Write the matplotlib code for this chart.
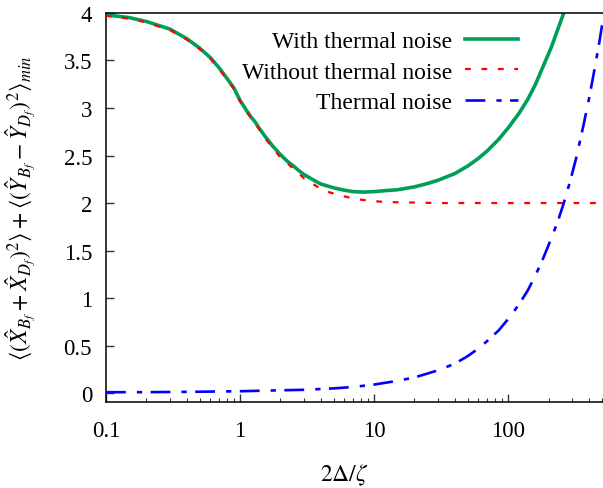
import matplotlib
matplotlib.use("Agg")
import matplotlib.pyplot as plt

plt.rcParams['font.family'] = ['Liberation Serif', 'DejaVu Serif']
plt.rcParams['mathtext.fontset'] = 'stix'

# values (x is 2*Delta/zeta)
x_with = [0.1, 0.15, 0.2, 0.3, 0.4, 0.5, 0.6, 0.7, 0.8, 0.9, 1.0, 1.11, 1.2, 1.3, 1.4,
          1.56, 1.75, 2.0, 2.25, 2.5, 2.75, 3.0, 3.5, 4.0, 5.0, 6.0, 7.0, 8.3, 10, 12,
          15, 20, 25, 30, 40, 50, 60, 70, 85, 100, 120, 140, 160, 184, 210, 235, 260,
          290]
y_with = [3.98, 3.95, 3.91, 3.83, 3.73, 3.63, 3.53, 3.42, 3.31, 3.21, 3.08, 2.98, 2.91,
          2.85, 2.78, 2.69, 2.60, 2.51, 2.44, 2.39, 2.34, 2.30, 2.245, 2.20, 2.16, 2.135,
          2.12, 2.115, 2.12, 2.13, 2.14, 2.17, 2.205, 2.24, 2.31, 2.39, 2.47, 2.55, 2.67,
          2.79, 2.94, 3.09, 3.25, 3.45, 3.64, 3.83, 4.0, 4.25]

x_without = [0.1, 0.15, 0.2, 0.3, 0.4, 0.5, 0.6, 0.7, 0.8, 0.9, 1.0, 1.11, 1.2, 1.3, 1.4,
             1.56, 1.75, 2.0, 2.25, 2.5, 2.75, 3.0, 3.5, 4.0, 4.7, 6.0, 7.4, 10, 12.4,
             20, 30, 50, 100, 200, 510]
y_without = [3.97, 3.94, 3.90, 3.82, 3.72, 3.62, 3.52, 3.41, 3.30, 3.20, 3.07, 2.97, 2.90,
             2.83, 2.77, 2.67, 2.58, 2.48, 2.42, 2.36, 2.31, 2.26, 2.20, 2.15, 2.11, 2.07,
             2.04, 2.02, 2.01, 2.005, 2.0, 2.0, 2.0, 2.0, 2.0]

x_thermal = [0.1, 0.2, 0.5, 1, 2, 3, 5, 7, 10, 15, 20, 30, 40, 50, 60, 70, 85, 100, 120,
             140, 160, 184, 210, 235, 260, 290, 320, 365, 400, 440, 480, 520]
y_thermal = [0.01, 0.01, 0.015, 0.02, 0.03, 0.035, 0.05, 0.065, 0.09, 0.13, 0.165, 0.24,
             0.31, 0.39, 0.47, 0.55, 0.66, 0.78, 0.93, 1.08, 1.24, 1.43, 1.63, 1.81, 2.0,
             2.23, 2.46, 2.82, 3.09, 3.40, 3.70, 4.01]

labels = ['With thermal noise', 'Without thermal noise', 'Thermal noise']
x_ticks = [0.1, 1, 10, 100]
x_ticklabels = ['0.1', '1', '10', '100']
y_ticks = [0, 0.5, 1, 1.5, 2, 2.5, 3, 3.5, 4]
y_ticklabels = ['0', '0.5', '1', '1.5', '2', '2.5', '3', '3.5', '4']

fig = plt.figure(figsize=(6.03, 4.89), dpi=100)
ax = fig.add_axes([0.1758, 0.1765, 0.8242, 0.795])

ax.plot(x_with, y_with, color='#009f58', lw=2.6, label=labels[0], zorder=2,
        solid_joinstyle='round')
ax.plot(x_without, y_without, color='#ff0000', lw=1.6, ls=(0, (2.6, 4.8)),
        label=labels[1], zorder=3)
ax.plot(x_thermal, y_thermal, color='#0000ff', lw=1.9, ls=(0, (7.5, 4.2, 2.0, 3.2)),
        label=labels[2], zorder=3)

ax.set_xscale('log')
ax.set_xlim(0.1, 510)
ax.set_ylim(-0.09, 4)
ax.set_xticks(x_ticks)
ax.set_xticklabels(x_ticklabels)
ax.set_yticks(y_ticks)
ax.set_yticklabels(y_ticklabels)

ax.tick_params(which='major', direction='in', length=6, width=1, color='#333333',
               labelsize=16.5, pad=13)
ax.tick_params(axis='y', pad=10)
ax.tick_params(which='minor', direction='in', length=3, width=0.8, color='#333333')
ax.spines['right'].set_visible(False)
for side in ('left', 'bottom', 'top'):
    ax.spines[side].set_linewidth(1.1)

ax.set_xlabel(r'$2\Delta/\zeta$', fontsize=17)
ax.xaxis.set_label_coords(0.479, -0.155)
ax.set_ylabel(r'$\langle(\hat{X}_{B_f}+\hat{X}_{D_f})^2\rangle+'
              r'\langle(\hat{Y}_{B_f}-\hat{Y}_{D_f})^2\rangle_{min}$', fontsize=17)
ax.yaxis.set_label_coords(-0.137, 0.5)

ax.legend(loc='upper right', bbox_to_anchor=(0.8595, 0.935),
          bbox_transform=fig.transFigure, frameon=False, markerfirst=False,
          fontsize=17, handlelength=2.25, handletextpad=0.56, labelspacing=0.37,
          borderpad=0, borderaxespad=0)

fig.savefig('out.png', dpi=100)
